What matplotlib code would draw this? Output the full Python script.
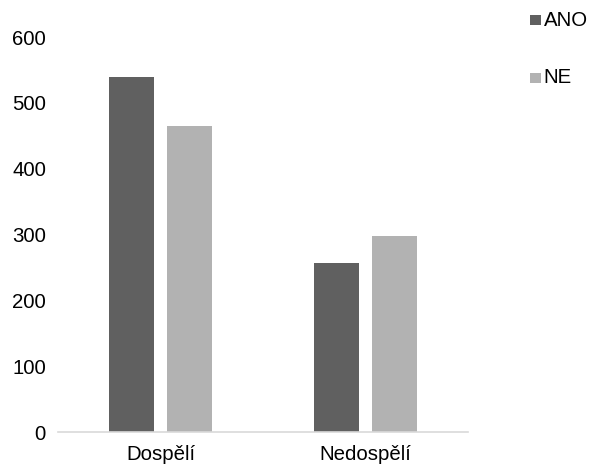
import matplotlib
matplotlib.use("Agg")
import matplotlib.pyplot as plt
import numpy as np
from matplotlib.patches import Rectangle

categories = ["Dospělí", "Nedospělí"]
series_names = ["ANO", "NE"]
ano_values = [540, 257]
ne_values = [465, 298]
yticks = [0, 100, 200, 300, 400, 500, 600]

colors = ["#606060", "#b2b2b2"]

plt.rcParams['font.family'] = ['Liberation Sans', 'DejaVu Sans']
FS = 14.7

fig = plt.figure(figsize=(5.94, 4.68), dpi=100)
ax = fig.add_axes([0.0976, 0.0769, 0.690, 0.844])

x = np.arange(len(categories))
w = 0.22
off = 0.142
ax.bar(x - off, ano_values, w, color=colors[0], label=series_names[0])
ax.bar(x + off, ne_values, w, color=colors[1], label=series_names[1])

ax.set_xlim(-0.5, 1.5)
ax.set_ylim(0, 600)
ax.set_yticks(yticks)
ax.set_xticks(x)
ax.set_xticklabels(categories)
ax.tick_params(axis='both', length=0, labelsize=FS, colors='black')
ax.tick_params(axis='y', pad=8.7)
ax.tick_params(axis='x', pad=9)
for s in ['top', 'right', 'left']:
    ax.spines[s].set_visible(False)
ax.spines['bottom'].set_color('#d9d9d9')
ax.spines['bottom'].set_linewidth(1.2)

# legend
for i, (name, c) in enumerate(zip(series_names, colors)):
    yy = 0.957 - i * 0.123
    fig.patches.append(Rectangle((0.892, yy - 0.0107), 0.0185, 0.0214, transform=fig.transFigure,
                                 facecolor=c, edgecolor='none'))
    fig.text(0.915, yy, name, fontsize=FS, va='center', ha='left')

fig.savefig("out.png", dpi=100)
